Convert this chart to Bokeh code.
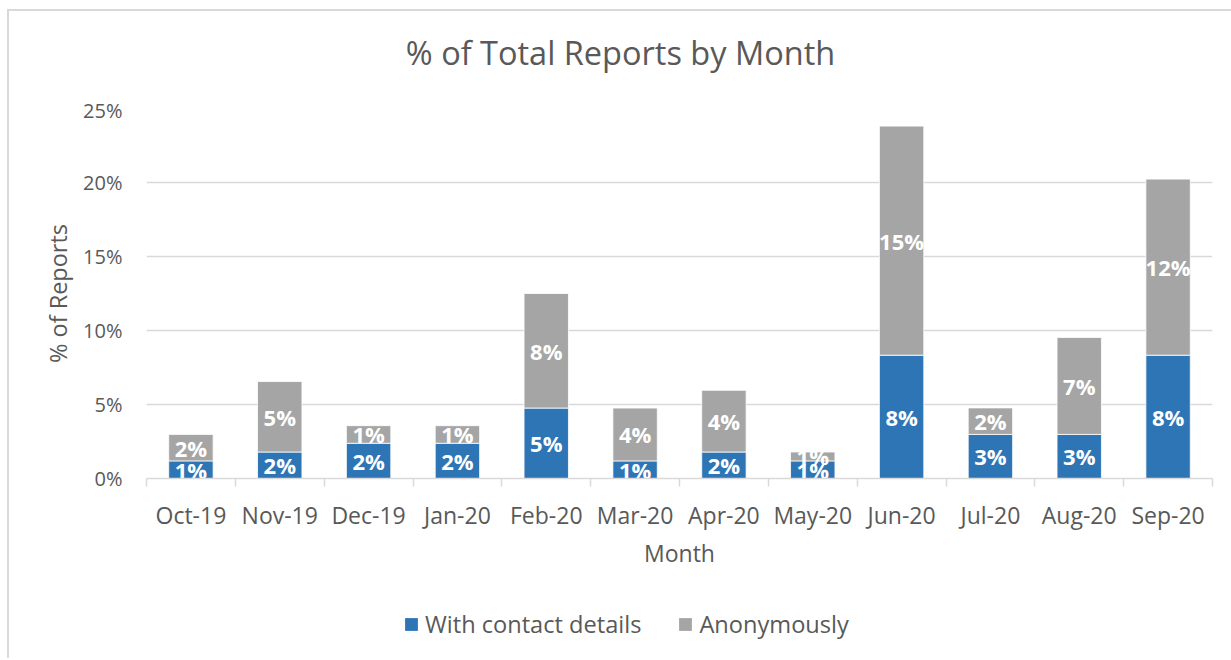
from bokeh.plotting import figure
from bokeh.layouts import column
from bokeh.models import (ColumnDataSource, Range1d, FixedTicker, PrintfTickFormatter,
                          Legend, LegendItem, Label)
from bokeh.core.properties import value
from bokeh.embed import file_html
from bokeh.resources import INLINE

# ---- data (percent of total reports) ----
months = ["Oct-19", "Nov-19", "Dec-19", "Jan-20", "Feb-20", "Mar-20",
          "Apr-20", "May-20", "Jun-20", "Jul-20", "Aug-20", "Sep-20"]
with_contact = [1.19, 1.79, 2.38, 2.38, 4.76, 1.19, 1.79, 1.19, 8.33, 2.98, 2.98, 8.33]
anonymously = [1.79, 4.76, 1.19, 1.19, 7.74, 3.57, 4.17, 0.60, 15.48, 1.79, 6.55, 11.90]
series_names = ["With contact details", "Anonymously"]
y_ticks = [0, 5, 10, 15, 20, 25]
title_text = "% of Total Reports by Month"

BLUE = "#2E75B6"
GREY = "#A5A5A5"
TXT = "#595959"
GRID = "#D9D9D9"
FONT = "Open Sans"


def strip(height):
    f = figure(width=1222, height=height, output_backend="svg", toolbar_location=None,
               x_axis_location=None, y_axis_location=None,
               x_range=Range1d(0, 1066), y_range=Range1d(0, height),
               min_border=0, min_border_left=0, min_border_right=0,
               min_border_top=0, min_border_bottom=0)
    f.outline_line_color = None
    f.grid.grid_line_color = None
    f.background_fill_color = "white"
    f.border_fill_color = "white"
    return f


# ---- title strip ----
top = strip(85)
top.add_layout(Label(x=474, y=44, text=title_text, text_align="center",
                     text_baseline="middle", text_font=FONT, text_font_size="32.5px",
                     text_color=TXT))

# ---- main chart ----
xpos = [i + 0.5 for i in range(len(months))]
src = ColumnDataSource(dict(x=xpos, contact=with_contact, anon=anonymously))

fig = figure(width=1222, height=505, output_backend="svg", toolbar_location=None,
             x_range=Range1d(0, len(months)), y_range=Range1d(0, 25),
             min_border_left=137, min_border_right=19, min_border_top=12, min_border_bottom=123)
fig.outline_line_color = None
fig.background_fill_color = "white"
fig.border_fill_color = "white"

rs = fig.vbar_stack(["contact", "anon"], x="x", width=0.5, source=src,
                    color=[BLUE, GREY], line_color="white", line_width=0.8)

# data labels
lab_x = xpos + xpos
lab_y = [c / 2 for c in with_contact] + [c + a / 2 for c, a in zip(with_contact, anonymously)]
lab_t = ["%d%%" % round(v) for v in with_contact] + ["%d%%" % round(v) for v in anonymously]
fig.text(x=lab_x, y=lab_y, text=lab_t, text_align="center", text_baseline="middle",
         text_color="white", text_font=value(FONT), text_font_size="22px",
         text_font_style="bold")

# axes
yax = fig.yaxis[0]
yax.ticker = FixedTicker(ticks=y_ticks)
yax.formatter = PrintfTickFormatter(format="%d%%")
yax.axis_line_color = None
yax.major_tick_line_color = None
yax.minor_tick_line_color = None
yax.major_tick_out = 0
yax.major_label_standoff = 24
yax.major_label_text_font = FONT
yax.major_label_text_font_size = "20px"
yax.major_label_text_color = TXT
yax.axis_label = "% of Reports"
yax.axis_label_text_font = FONT
yax.axis_label_text_font_size = "23.5px"
yax.axis_label_text_font_style = "normal"
yax.axis_label_text_color = TXT
yax.axis_label_standoff = 6

xax = fig.xaxis[0]
xax.ticker = FixedTicker(ticks=xpos, minor_ticks=list(range(len(months) + 1)))
xax.major_label_overrides = {x: m for x, m in zip(xpos, months)}
xax.axis_line_color = GRID
xax.axis_line_width = 1.5
xax.major_tick_line_color = None
xax.major_tick_out = 0
xax.major_tick_in = 0
xax.minor_tick_line_color = GRID
xax.minor_tick_line_width = 1.5
xax.minor_tick_out = 8
xax.minor_tick_in = 0
xax.major_label_standoff = 12
xax.major_label_text_font = FONT
xax.major_label_text_font_size = "23px"
xax.major_label_text_color = TXT
xax.axis_label = "Month"
xax.axis_label_text_font = FONT
xax.axis_label_text_font_size = "23px"
xax.axis_label_text_font_style = "normal"
xax.axis_label_text_color = TXT
xax.axis_label_standoff = 3

fig.xgrid.grid_line_color = None
fig.ygrid.ticker = FixedTicker(ticks=y_ticks)
fig.ygrid.grid_line_color = GRID
fig.ygrid.grid_line_width = 1.5

# ---- legend strip (swatch renderers sit outside the visible range) ----
leg = strip(57)
sw_src = ColumnDataSource(dict(x=[-5], top=[0]))
g1 = leg.vbar(x="x", top="top", width=0.5, source=sw_src, fill_color=BLUE, line_alpha=0)
g2 = leg.vbar(x="x", top="top", width=0.5, source=sw_src, fill_color=GREY, line_alpha=0)
legend = Legend(items=[LegendItem(label=series_names[0], renderers=[g1]),
                       LegendItem(label=series_names[1], renderers=[g2])],
                orientation="horizontal", location=(257, 18),
                padding=0, margin=0, spacing=36, label_standoff=6,
                glyph_width=16, glyph_height=16, border_line_color=None,
                background_fill_alpha=0,
                label_text_font=FONT, label_text_font_size="23.6px", label_text_color=TXT)
leg.add_layout(legend, "center")

p = column(top, fig, leg, spacing=0,
           styles={"margin-left": "7px", "margin-top": "9px",
                   "border-left": "2px solid #D9D9D9", "border-top": "2px solid #D9D9D9"})

open("out.html", "w").write(file_html(p, INLINE))
